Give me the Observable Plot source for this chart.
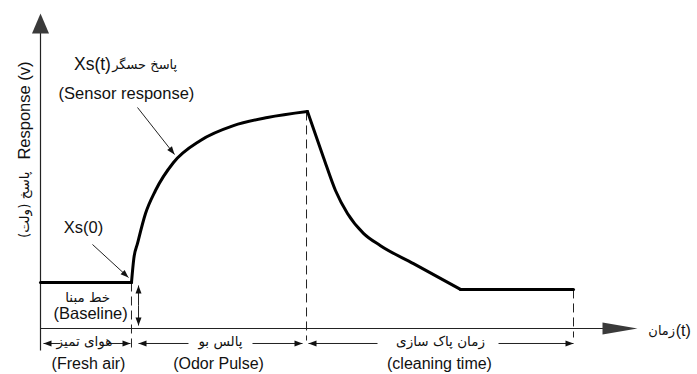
<!DOCTYPE html>
<html><head><meta charset="utf-8">
<script src="https://cdn.jsdelivr.net/npm/d3@7"></script>
<script src="https://cdn.jsdelivr.net/npm/@observablehq/plot@0.6"></script>
<style>html,body{margin:0;padding:0;background:#fff}</style>
</head><body><div id="chart"></div>
<script>
// ---- data (time t in arbitrary units, response v in arbitrary units) ----
const baselineT = [0, 15.24];
const baselineV = [14.6, 14.6];
const riseT = [15.24, 15.63, 16.25, 17.59, 19.26, 22.28, 26.80, 32.33, 38.02, 44.72];
const riseV = [14.6, 22.2, 27.0, 36.5, 43.8, 52.7, 59.7, 64.4, 67.0, 68.9];
const decayT = [44.72, 47.40, 49.41, 51.42, 54.10, 56.95, 62.48, 70.35];
const decayV = [68.9, 54.3, 43.8, 36.5, 30.2, 26.3, 20.6, 12.4];
const recoveredT = [70.35, 89.28];
const recoveredV = [12.4, 12.4];

// phase boundaries (dashed markers)
const boundaryT = [15.24, 44.56, 89.28];
const boundaryTop = [14.6, 68.9, 12.4];
const boundaryBottom = [-6.98, -3.81, -2.86];

// phase labels
const phaseFa = ["هوای تمیز", "پالس بو", "زمان پاک سازی"];
const phaseEn = ["(Fresh air)", "(Odor Pulse)", "(cleaning time)"];
const phaseFaT = [7.37, 30.15, 67.0];
const phaseEnT = [8.04, 29.82, 66.83];
const phaseArrowV = -4.76;
const phaseFaV = -4.3;
const phaseEnV = -11.1;
// arrow segments of phase spans [from, to] (head at "to")
const phaseArrowFrom = [3.35, 11.22, 24.79, 35.51, 56.45, 76.72];
const phaseArrowTo   = [0.50, 15.08, 16.42, 43.89, 44.89, 89.28];

// annotation labels
const sensorLabelEn = "Xs(t)";
const sensorLabelFa = "پاسخ حسگر";
const sensorLabelEn2 = "(Sensor response)";
const startLabel = "Xs(0)";
const baselineFa = "خط مبنا";
const baselineEn = "(Baseline)";

// axis labels
const yLabelEn = "Response (v)";
const yLabelFa = "پاسخ (ولت)";
const xLabelFa = "زمان";
const xLabelEn = "(t)";

// ---- scales ----
const xDomain = [0, 100], xRange = [40, 637];
const yDomain = [0, 100], yRange = [328, 13];
const X = d3.scaleLinear(xDomain, xRange);
const Y = d3.scaleLinear(yDomain, yRange);

const toPts = (T, V) => T.map((t, i) => ({t, v: V[i]}));

// arrows (annotation + phase + baseline)
const arrows = [
  {x1: 16.25, y1: 70.16, x2: 22.45, y2: 55.24},   // sensor response pointer
  {x1: 8.71, y1: 26.67, x2: 14.74, y2: 16.19},    // Xs(0) pointer
  {x1: 16.42, y1: 7.3, x2: 16.42, y2: 13.65},     // baseline up
  {x1: 16.42, y1: 7.3, x2: 16.42, y2: 0.95},      // baseline down
  ...phaseArrowFrom.map((f, i) => ({x1: f, y1: phaseArrowV, x2: phaseArrowTo[i], y2: phaseArrowV}))
];
arrows.forEach(a => {
  a.angle = Math.atan2(Y(a.y2) - Y(a.y1), X(a.x2) - X(a.x1)) * 180 / Math.PI;
});

const headShape = (len, wid) => ({
  draw(ctx) { ctx.moveTo(0, 0); ctx.lineTo(-len, -wid / 2); ctx.lineTo(-len, wid / 2); ctx.closePath(); }
});

const axisLines = [
  {x1: 0, y1: -6.98, x2: 0, y2: 94},
  {x1: 0, y1: 0, x2: 94.5, y2: 0}
];
const axisHeads = [
  {x: 0, y: 100, angle: -90, s: "y"},
  {x: 100, y: 0, angle: 0, s: "x"}
];

const latin = "'Liberation Sans', Arial, sans-serif";
const farsi = "'DejaVu Sans', sans-serif";
const ink = "#111";
const one = (text, x, y, opts = {}) =>
  Plot.text([text], {x, y, text: d => d, fontFamily: latin, fontSize: 16, fill: ink, ...opts});

const chart = Plot.plot({
  width: 697,
  height: 374,
  margin: 0,
  x: {domain: xDomain, range: xRange, axis: null},
  y: {domain: yDomain, range: yRange, axis: null},
  style: {fontFamily: latin, background: "#fff", color: ink},
  marks: [
    // axes
    Plot.link(axisLines, {x1: "x1", y1: "y1", x2: "x2", y2: "y2", stroke: "#222", strokeWidth: 1.2}),
    Plot.dot(axisHeads.filter(d => d.s === "y"), {x: "x", y: "y", rotate: "angle", symbol: headShape(20, 17), fill: "#3a3a3a", stroke: "none"}),
    Plot.dot(axisHeads.filter(d => d.s === "x"), {x: "x", y: "y", rotate: "angle", symbol: headShape(35, 12), fill: "#3a3a3a", stroke: "none"}),
    // dashed phase boundaries
    Plot.link(boundaryT, {x1: d => d, x2: d => d, y1: (d, i) => boundaryTop[i], y2: (d, i) => boundaryBottom[i], stroke: "#222", strokeWidth: 1, strokeDasharray: "9,5"}),
    // response curve
    Plot.line(toPts(baselineT, baselineV), {x: "t", y: "v", stroke: "#000", strokeWidth: 3}),
    Plot.line(toPts(riseT, riseV), {x: "t", y: "v", stroke: "#000", strokeWidth: 3, curve: "monotone-x"}),
    Plot.line(toPts(decayT, decayV), {x: "t", y: "v", stroke: "#000", strokeWidth: 3, curve: "monotone-x"}),
    Plot.line(toPts(recoveredT, recoveredV), {x: "t", y: "v", stroke: "#000", strokeWidth: 3}),
    // arrows
    Plot.link(arrows, {x1: "x1", y1: "y1", x2: "x2", y2: "y2", stroke: "#222", strokeWidth: 1}),
    Plot.dot(arrows, {x: "x2", y: "y2", rotate: "angle", symbol: headShape(8, 6), fill: ink, stroke: "none"}),
    // phase labels
    Plot.text(phaseFa, {x: (d, i) => phaseFaT[i], y: phaseFaV, text: d => d, fontFamily: farsi, fontSize: 13.5, fill: ink}),
    Plot.text(phaseEn, {x: (d, i) => phaseEnT[i], y: phaseEnV, text: d => d, fontFamily: latin, fontSize: 16, fill: ink}),
    // annotations
    one(sensorLabelEn, 11.8, 83.8, {textAnchor: "end", fontSize: 17.5}),
    one(sensorLabelFa, 12.0, 83.8, {textAnchor: "start", fontFamily: farsi, fontSize: 13}),
    one(sensorLabelEn2, 14.4, 74.6, {fontSize: 16.5}),
    one(startLabel, 7.2, 32.1, {fontSize: 16.5}),
    one(baselineFa, 7.9, 9.8, {fontFamily: farsi, fontSize: 13.5}),
    one(baselineEn, 8.4, 4.6, {fontSize: 16.5}),
    // axis labels
    one(yLabelEn, -2.7, 69.2, {rotate: -90, fontSize: 16.5}),
    one(yLabelFa, -2.7, 39.3, {rotate: -90, fontFamily: farsi, fontSize: 13.5}),
    one(xLabelFa, 106.3, -0.6, {textAnchor: "end", fontFamily: farsi, fontSize: 13}),
    one(xLabelEn, 106.4, -0.6, {textAnchor: "start", fontSize: 16})
  ]
});
document.getElementById("chart").append(chart);
</script>
</body></html>
